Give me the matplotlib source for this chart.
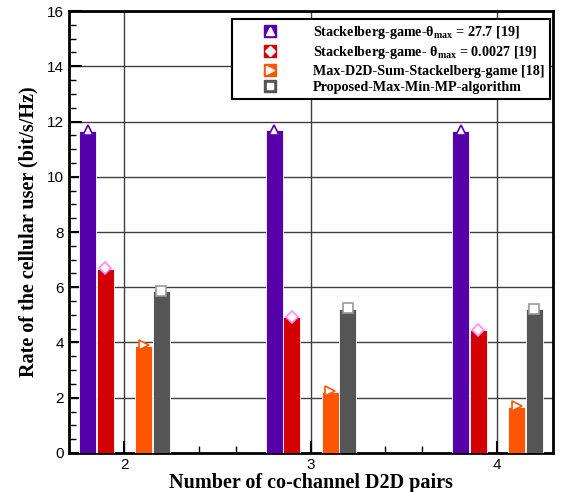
import numpy as np
import matplotlib
matplotlib.use('Agg')
import matplotlib.pyplot as plt
from matplotlib.lines import Line2D
from matplotlib.legend_handler import HandlerTuple
from matplotlib.ticker import MultipleLocator

# data
pairs = [2, 3, 4]
stackelberg_high = [11.66, 11.69, 11.66]
stackelberg_low = [6.66, 4.92, 4.45]
max_d2d_sum = [3.88, 2.22, 1.68]
proposed = [5.86, 5.22, 5.21]

labels = [r'Stackelberg-game-θ$_\mathregular{max}$ = 27.7 [19]',
          r'Stackelberg-game- θ$_\mathregular{max}$ = 0.0027 [19]',
          'Max-D2D-Sum-Stackelberg-game [18]',
          'Proposed-Max-Min-MP-algorithm']
series = [stackelberg_high, stackelberg_low, max_d2d_sum, proposed]
offsets = [-0.195, -0.1, 0.105, 0.2]
bar_colors = ['#5500AA', '#D40000', '#FF5500', '#555555']
markers = ['^', 'D', '>', 's']
marker_edges = ['#5500AA', '#FF88FF', '#FF5500', '#999999']

fig = plt.figure(figsize=(5.67, 4.92), dpi=100)
ax = fig.add_axes([0.1217, 0.0793, 0.8536, 0.8983])

x = np.array(pairs, dtype=float)
handles = []
for vals, off, c, m, me in zip(series, offsets, bar_colors, markers, marker_edges):
    ax.bar(x + off, vals, width=0.092, color=c, edgecolor='white', linewidth=0.6, zorder=3)
    ax.plot(x + off, np.array(vals) + 0.02, linestyle='none', marker=m,
            markersize=6.5 if m != 'D' else 6, markerfacecolor='white',
            markeredgecolor=me, markeredgewidth=1.2, zorder=4, clip_on=False)
    box = Line2D([], [], linestyle='none', marker='s', markersize=9,
                 markerfacecolor=c, markeredgecolor=c)
    inner = Line2D([], [], linestyle='none', marker=m,
                   markersize={'^': 5.5, 'D': 5, '>': 5.5, 's': 5}[m],
                   markerfacecolor='white', markeredgecolor='white')
    handles.append((box, inner))

ax.set_xlim(1.705, 4.30)
ax.set_ylim(0, 16)
ax.set_xticks(pairs)
ax.xaxis.set_minor_locator(MultipleLocator(0.2))
ax.yaxis.set_major_locator(MultipleLocator(2))
ax.yaxis.set_minor_locator(MultipleLocator(0.5))
ax.tick_params(which='both', direction='in', top=False, right=False)
ax.tick_params(which='major', length=9, width=1.5)
ax.tick_params(which='minor', length=5, width=1)
for lab in ax.get_xticklabels() + ax.get_yticklabels():
    lab.set_fontfamily('Liberation Sans')
    lab.set_fontsize(11)

ax.grid(True, which='major', color='0.25', linewidth=1, zorder=0)
ax.set_axisbelow(True)
for s in ax.spines.values():
    s.set_linewidth(2)

ax.set_xlabel('Number of co-channel D2D pairs', fontfamily='Liberation Serif',
              fontweight='bold', fontsize=14.5, labelpad=1)
ax.set_ylabel('Rate of the cellular user (bit/s/Hz)', fontfamily='Liberation Serif',
              fontweight='bold', fontsize=14.5, labelpad=6)

leg = ax.legend(handles, labels, handler_map={tuple: HandlerTuple(ndivide=1)},
                loc='upper right', bbox_to_anchor=(0.993, 0.982),
                prop={'family': 'Liberation Serif', 'weight': 'bold', 'size': 10.2},
                fancybox=False, edgecolor='black', framealpha=1, alignment='left',
                handlelength=4.6, handletextpad=0.75, labelspacing=0.24,
                borderpad=0.35, borderaxespad=0.0)
leg.get_frame().set_linewidth(1.5)
leg.set_zorder(5)

fig.savefig('out.png', dpi=100)
